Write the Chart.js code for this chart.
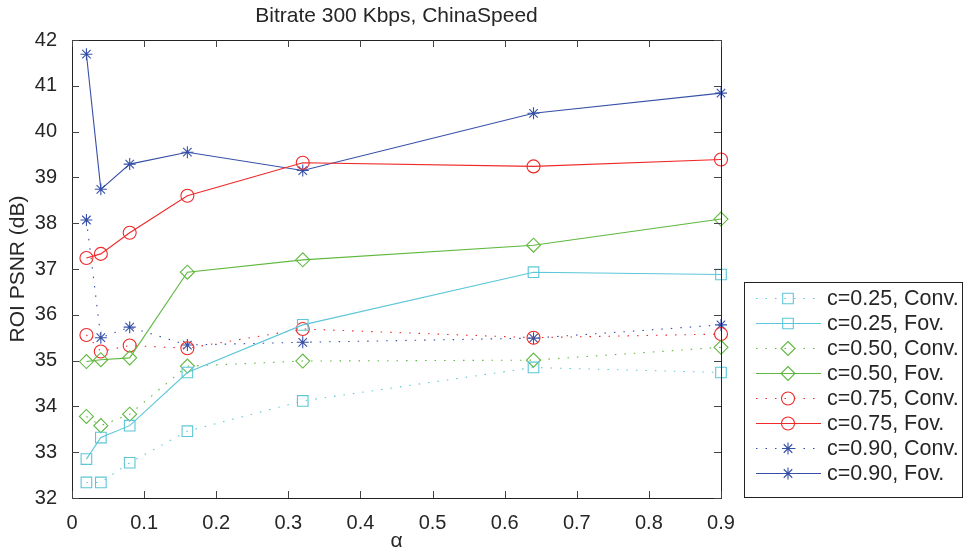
<!DOCTYPE html>
<html>
<head>
<meta charset="utf-8">
<script src="https://cdn.jsdelivr.net/npm/chart.js"></script>
<style>
  html, body { margin: 0; padding: 0; background: #fff; }
  canvas { display: block; }
</style>
</head>
<body>
<canvas id="chart" width="964" height="554"></canvas>
<script>
// x positions (alpha)
const alphas = [0.02, 0.04, 0.08, 0.16, 0.32, 0.64, 0.9];

// ROI PSNR (dB)
const conv025 = [32.34, 32.34, 32.77, 33.46, 34.12, 34.85, 34.74];
const fov025  = [32.85, 33.32, 33.58, 34.74, 35.78, 36.93, 36.88];
const conv050 = [33.78, 33.58, 33.83, 34.88, 34.99, 35.01, 35.29];
const fov050  = [34.98, 35.02, 35.06, 36.93, 37.20, 37.52, 38.09];
const conv075 = [35.56, 35.20, 35.33, 35.27, 35.69, 35.50, 35.58];
const fov075  = [37.24, 37.33, 37.79, 38.60, 39.32, 39.24, 39.39];
const conv090 = [38.07, 35.50, 35.73, 35.34, 35.40, 35.49, 35.78];
const fov090  = [41.69, 38.74, 39.29, 39.55, 39.15, 40.40, 40.84];

const seriesLabels = [
  "c=0.25, Conv.", "c=0.25, Fov.",
  "c=0.50, Conv.", "c=0.50, Fov.",
  "c=0.75, Conv.", "c=0.75, Fov.",
  "c=0.90, Conv.", "c=0.90, Fov."
];
const seriesValues = [conv025, fov025, conv050, fov050, conv075, fov075, conv090, fov090];
const seriesColors = ["#5cc6d8", "#5cc6d8", "#5fb83f", "#5fb83f", "#f02828", "#f02828", "#3650a8", "#3650a8"];
const seriesMarkers = ["rect", "rect", "rectRot", "rectRot", "circle", "circle", "star", "star"];
const markerSizes = { rect: 7.5, rectRot: 7, circle: 6.5, star: 6 };

const xTicks = [0, 0.1, 0.2, 0.3, 0.4, 0.5, 0.6, 0.7, 0.8, 0.9];
const yTicks = [32, 33, 34, 35, 36, 37, 38, 39, 40, 41, 42];

const FONT = "'Liberation Sans', Arial, Helvetica, sans-serif";
const TEXT = "#262626";
const DOTS = [1.5, 8];

const datasets = seriesLabels.map((label, i) => ({
  label,
  data: alphas.map((a, j) => ({ x: a, y: seriesValues[i][j] })),
  borderColor: seriesColors[i],
  backgroundColor: "rgba(0,0,0,0)",
  borderWidth: 1.1,
  borderDash: i % 2 === 0 ? DOTS : [],
  pointStyle: seriesMarkers[i],
  pointRadius: markerSizes[seriesMarkers[i]],
  pointBorderWidth: 1.1,
  pointBorderColor: seriesColors[i],
  pointBackgroundColor: "rgba(0,0,0,0)",
  tension: 0,
  clip: false
}));

// little marker painter for the hand drawn legend
function drawMarker(ctx, style, x, y, r) {
  ctx.beginPath();
  if (style === "rect") {
    const s = r * Math.SQRT1_2;
    ctx.rect(x - s, y - s, 2 * s, 2 * s);
  } else if (style === "rectRot") {
    ctx.moveTo(x, y - r); ctx.lineTo(x + r, y); ctx.lineTo(x, y + r); ctx.lineTo(x - r, y); ctx.closePath();
  } else if (style === "circle") {
    ctx.arc(x, y, r, 0, Math.PI * 2);
  } else {
    const d = r * Math.SQRT1_2;
    ctx.moveTo(x - r, y); ctx.lineTo(x + r, y);
    ctx.moveTo(x, y - r); ctx.lineTo(x, y + r);
    ctx.moveTo(x - d, y - d); ctx.lineTo(x + d, y + d);
    ctx.moveTo(x - d, y + d); ctx.lineTo(x + d, y - d);
  }
  ctx.stroke();
}

const framePlugin = {
  id: "frame",
  afterDraw(chart) {
    const { ctx, chartArea: a, scales: { x, y } } = chart;
    ctx.save();
    ctx.setLineDash([]);
    ctx.strokeStyle = "#222";
    ctx.lineWidth = 1;
    ctx.strokeRect(Math.round(a.left) + 0.5, Math.round(a.top) + 0.5,
      Math.round(a.right - a.left), Math.round(a.bottom - a.top));

    // inward ticks on all four sides
    const TL = 7;
    ctx.strokeStyle = "#444";
    ctx.beginPath();
    xTicks.forEach(v => {
      const px = Math.round(x.getPixelForValue(v)) + 0.5;
      ctx.moveTo(px, a.bottom); ctx.lineTo(px, a.bottom - TL);
      ctx.moveTo(px, a.top); ctx.lineTo(px, a.top + TL);
    });
    yTicks.forEach(v => {
      const py = Math.round(y.getPixelForValue(v)) + 0.5;
      ctx.moveTo(a.left, py); ctx.lineTo(a.left + TL, py);
      ctx.moveTo(a.right, py); ctx.lineTo(a.right - TL, py);
    });
    ctx.stroke();

    // title
    ctx.fillStyle = TEXT;
    ctx.font = "21px " + FONT;
    ctx.textAlign = "center";
    ctx.textBaseline = "middle";
    ctx.fillText("Bitrate 300 Kbps, ChinaSpeed", (a.left + a.right) / 2, 16);

    // legend
    const box = { left: 744, top: 282, right: 963, bottom: 498 };
    ctx.fillStyle = "#fff";
    ctx.fillRect(box.left, box.top, box.right - box.left, box.bottom - box.top);
    ctx.strokeStyle = "#222";
    ctx.strokeRect(box.left + 0.5, box.top + 0.5, box.right - box.left - 1, box.bottom - box.top - 1);
    ctx.font = "21.5px " + FONT;
    ctx.textAlign = "left";
    chart.data.datasets.forEach((ds, i) => {
      const cy = 298.5 + i * 25;
      ctx.strokeStyle = ds.borderColor;
      ctx.lineWidth = 1.1;
      ctx.setLineDash(ds.borderDash);
      ctx.beginPath();
      ctx.moveTo(756, cy); ctx.lineTo(821, cy);
      ctx.stroke();
      ctx.setLineDash([]);
      drawMarker(ctx, ds.pointStyle, 788, cy, ds.pointRadius);
      ctx.fillStyle = TEXT;
      ctx.fillText(ds.label, 827, cy + 1);
    });
    ctx.restore();
  }
};

new Chart(document.getElementById("chart"), {
  type: "line",
  data: { datasets },
  plugins: [framePlugin],
  options: {
    responsive: false,
    animation: false,
    devicePixelRatio: 1,
    layout: { padding: { top: 40, left: 6, right: 243, bottom: 0 } },
    plugins: { legend: { display: false }, title: { display: false }, tooltip: { enabled: false } },
    scales: {
      x: {
        type: "linear",
        min: 0, max: 0.9,
        afterFit: s => { s.height = 56; },
        afterBuildTicks: s => { s.ticks = xTicks.map(v => ({ value: v })); },
        grid: { display: false },
        border: { display: false },
        ticks: { color: TEXT, font: { family: FONT, size: 20 }, padding: 5, maxRotation: 0,
                 callback: v => String(+v.toFixed(1)) },
        title: { display: true, text: "α", color: TEXT, font: { family: FONT, size: 21 }, padding: 0 }
      },
      y: {
        type: "linear",
        min: 32, max: 42,
        afterFit: s => { s.width = 66; },
        afterBuildTicks: s => { s.ticks = yTicks.map(v => ({ value: v })); },
        grid: { display: false },
        border: { display: false },
        ticks: { color: TEXT, font: { family: FONT, size: 20 }, padding: 7 },
        title: { display: true, text: "ROI PSNR (dB)", color: TEXT, font: { family: FONT, size: 21 },
                 padding: { top: 0, bottom: 4 } }
      }
    }
  }
});
</script>
</body>
</html>
